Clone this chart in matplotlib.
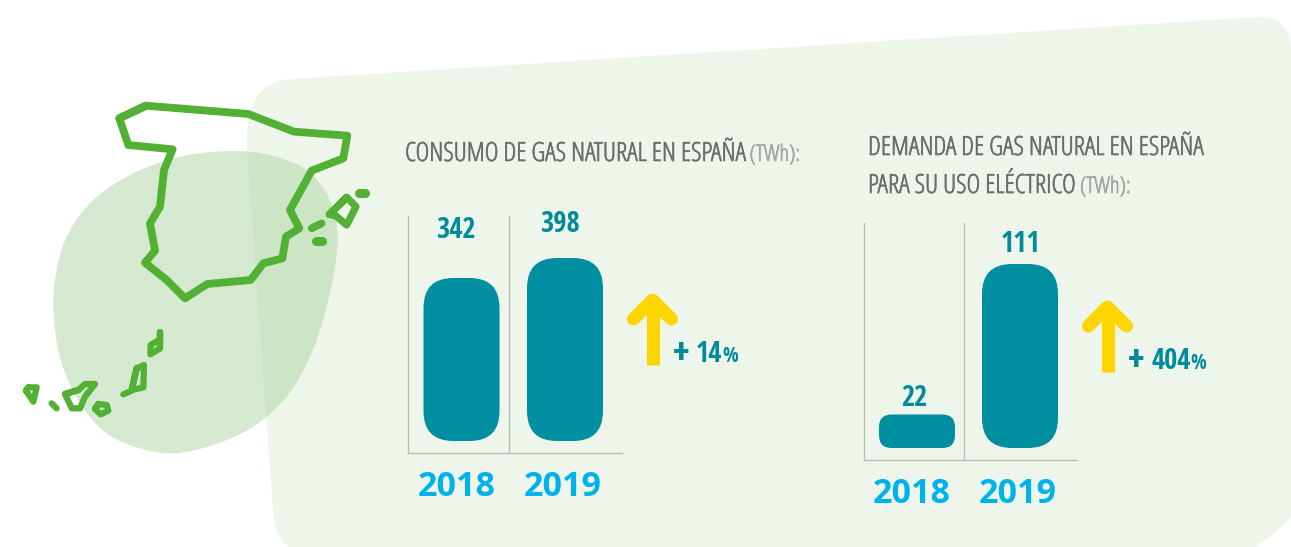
import numpy as np
import matplotlib
matplotlib.use("Agg")
import matplotlib.pyplot as plt
import matplotlib.patheffects as pe
from matplotlib.patches import FancyBboxPatch, PathPatch
from matplotlib.path import Path

# ---------- data ----------
years = ["2018", "2019"]
consumo = [342, 398]
demanda = [22, 111]
title_consumo = "CONSUMO DE GAS NATURAL EN ESPAÑA"
title_demanda = ["DEMANDA DE GAS NATURAL EN ESPAÑA", "PARA SU USO ELÉCTRICO"]
unit = "(TWh):"
growth_consumo = "14"
growth_demanda = "404"

W, H = 1291, 547
TEAL, TEAL_TXT = "#008EA1", "#008A9C"
BLUE = "#00B2EC"
YELLOW = "#FFD500"
GREEN = "#52B035"
NARROW = ["Open Sans"]
NARROW_B = ["Open Sans Condensed", "Roboto Condensed", "DejaVu Sans"]
PLUS = ["Roboto Condensed", "DejaVu Sans"]
BOLD = ["Open Sans", "DejaVu Sans"]

fig = plt.figure(figsize=(W / 100, H / 100), dpi=100, facecolor="white")
bg = fig.add_axes([0, 0, 1, 1])
bg.set_xlim(0, W)
bg.set_ylim(H, 0)
bg.axis("off")


def smooth(points):
    """Closed Catmull-Rom curve through the points."""
    p = np.array(points, float)
    n = len(p)
    verts, codes = [p[0]], [Path.MOVETO]
    for i in range(n):
        p0, p1, p2, p3 = p[i - 1], p[i], p[(i + 1) % n], p[(i + 2) % n]
        verts += [p1 + (p2 - p0) / 6, p2 - (p3 - p1) / 6, p2]
        codes += [Path.CURVE4] * 3
    return Path(verts, codes)


def z1(points):
    """Zoom-crop coordinates to picture pixels."""
    return [(x / 3, y / 3 + 80) for x, y in points]


# pale panel
panel = Path(
    [(292, 79), (1258, 17), (1291, 17), (1291, 50), (1291, 515), (1291, 522), (1255, 547),
     (288, 547), (274, 535), (273, 510), (247, 150), (243, 82), (292, 79)],
    [Path.MOVETO, Path.LINETO, Path.CURVE3, Path.CURVE3, Path.LINETO, Path.CURVE3, Path.CURVE3,
     Path.LINETO, Path.CURVE3, Path.CURVE3, Path.LINETO, Path.CURVE3, Path.CURVE3])
bg.add_patch(PathPatch(panel, fc="#EEF6EB", ec="none", zorder=1))

# blob
blob = z1([(690, 213), (540, 230), (400, 280), (280, 360), (200, 470), (165, 600),
           (162, 720), (185, 850), (240, 970), (320, 1060), (420, 1105), (520, 1120),
           (640, 1095), (760, 1040), (860, 950), (930, 830), (975, 700), (1005, 560),
           (1012, 450), (985, 350), (920, 270), (810, 225)])
bg.add_patch(PathPatch(smooth(blob), fc="#ABD5A1", ec="none", alpha=0.5, zorder=2))


def outline(points, lw=5.6, closed=True):
    pts = z1(points)
    if closed:
        pts = pts + [pts[0], pts[1]]
    x, y = zip(*pts)
    bg.plot(x, y, color=GREEN, lw=lw, solid_joinstyle="round", solid_capstyle="round", zorder=3)


outline([(358, 115), (438, 77), (745, 102), (882, 155), (1042, 167), (1030, 235), (935, 272),
         (870, 390), (898, 445), (858, 470), (847, 535), (790, 550), (752, 600), (622, 612),
         (555, 655), (500, 600), (435, 548), (465, 512), (450, 430), (480, 380), (492, 270),
         (518, 208), (385, 195)])
outline([(988, 403), (1040, 352), (1068, 380), (1040, 435), (1008, 408)], lw=5.2)
outline([(1078, 340), (1096, 340)], lw=6.5, closed=False)
outline([(935, 445), (965, 430)], lw=5.5, closed=False)
outline([(947, 484), (966, 484)], lw=6.5, closed=False)
SMALL = 4.5
outline([(480, 757), (480, 805), (451, 823), (452, 795), (480, 778)], lw=SMALL)
outline([(395, 930), (410, 865), (432, 855), (430, 922)], lw=SMALL)
outline([(395, 932), (370, 943)], lw=SMALL, closed=False)
outline([(285, 987), (295, 972), (320, 975), (325, 992), (302, 1003)], lw=SMALL)
outline([(195, 942), (235, 930), (255, 912), (285, 912), (255, 950), (240, 985), (215, 985)], lw=SMALL)
outline([(155, 970), (170, 985)], lw=SMALL, closed=False)
outline([(78, 932), (85, 922), (110, 922), (100, 965)], lw=SMALL)


def bar_panel(values, left, right, top, bottom, x0, xstep, width, y_first, y_last, y_base, radius):
    """Chart axes placed in pixels; the value scale comes from the two bar tops."""
    ax = fig.add_axes([left / W, 1 - bottom / H, (right - left) / W, (bottom - top) / H])
    ax.patch.set_alpha(0)
    ax.set_xlim((left - x0) / xstep, (right - x0) / xstep)
    k = (y_first - y_last) / (values[1] - values[0])        # px per value unit
    val_at = lambda y: values[0] + (y_first - y) / k
    ax.set_ylim(val_at(bottom), val_at(top))
    base = val_at(y_base)
    ax.set_xticks([])
    ax.set_yticks([])
    for s in ("top", "right"):
        ax.spines[s].set_visible(False)
    for s in ("left", "bottom"):
        ax.spines[s].set_color("#B9BDB8")
        ax.spines[s].set_linewidth(1.0)
    ax.axvline((left + 100.5 - x0) / xstep, color="#B9BDB8", lw=1.0)
    wd = width / xstep
    for i, v in enumerate(values):
        h_px = (v - base) * k
        r_px = min(radius, h_px * 0.38)
        ax.add_patch(FancyBboxPatch(
            (i - wd / 2, base), wd, v - base,
            boxstyle=f"round,pad=0,rounding_size={r_px / xstep}",
            mutation_aspect=xstep / k,
            fc=TEAL, ec="none", zorder=3))
    return ax


bar_panel(consumo, 408, 622, 216, 453, 461.5, 103.5, 76, 278, 258, 441, 30)
bar_panel(demanda, 863.5, 1077, 223, 459.5, 917, 103, 76, 414.5, 264, 448, 30)

# value labels
for x, y, v in [(456, 231, consumo[0]), (559.5, 224, consumo[1]),
                (914, 398, demanda[0]), (1021, 244, demanda[1])]:
    bg.text(x, y, str(v), family=NARROW_B, weight="bold", fontsize=20.5, color=TEAL_TXT,
            ha="center", va="center", zorder=6)

# year labels
for x, y, t in [(456.5, 487, years[0]), (563, 487, years[1]), (911.5, 494, years[0]), (1018, 494, years[1])]:
    bg.text(x, y, t, family=BOLD, weight="bold", fontsize=24.5, color=BLUE,
            ha="center", va="center", zorder=6)


def run_text(x, y, parts):
    """Consecutive text runs on one baseline."""
    r = fig.canvas.get_renderer()
    for s, kw in parts:
        t = bg.text(x, y, s, va="baseline", ha="left", zorder=6, **kw)
        x = bg.transData.inverted().transform(t.get_window_extent(r).get_points())[1, 0]
    return x


def heavier(color):
    return [pe.withStroke(linewidth=0.45, foreground=color)]


GREY = dict(family=NARROW, stretch="condensed", weight=300, fontsize=19, color="#6A6D6A",
            path_effects=heavier("#6A6D6A"))
LIGHT = dict(family=NARROW, stretch="condensed", weight=300, fontsize=16.5, color="#A3A6A2",
             path_effects=heavier("#A3A6A2"))

run_text(405, 161, [(title_consumo + " ", GREY), (unit, LIGHT)])
run_text(868, 155, [(title_demanda[0], GREY)])
run_text(868, 193, [(title_demanda[1] + " ", GREY), (unit, LIGHT)])


def arrow(dx, dy):
    bg.plot([652.5 + dx] * 2, [304 + dy, 365 + dy], color=YELLOW, lw=9.4,
            solid_capstyle="butt", zorder=5)
    bg.plot([633.5 + dx, 652.5 + dx, 671.5 + dx], [319 + dy, 300 + dy, 319 + dy], color=YELLOW, lw=9.4,
            solid_capstyle="round", solid_joinstyle="round", zorder=5)


arrow(0, 0)
arrow(455, 7)


def growth(x, y, val):
    t = dict(weight="bold", color=TEAL_TXT)
    run_text(x, y + 1, [("+", dict(family=PLUS, fontsize=25, **t))])
    end = run_text(x + 23, y, [(val, dict(family=NARROW_B, fontsize=20.5, **t)),
                               ("%", dict(family=NARROW_B, fontsize=15, **t))])
    return end


growth(673, 362, growth_consumo)
growth(1128, 369, growth_demanda)

fig.savefig("out.png", dpi=100, facecolor="white")
